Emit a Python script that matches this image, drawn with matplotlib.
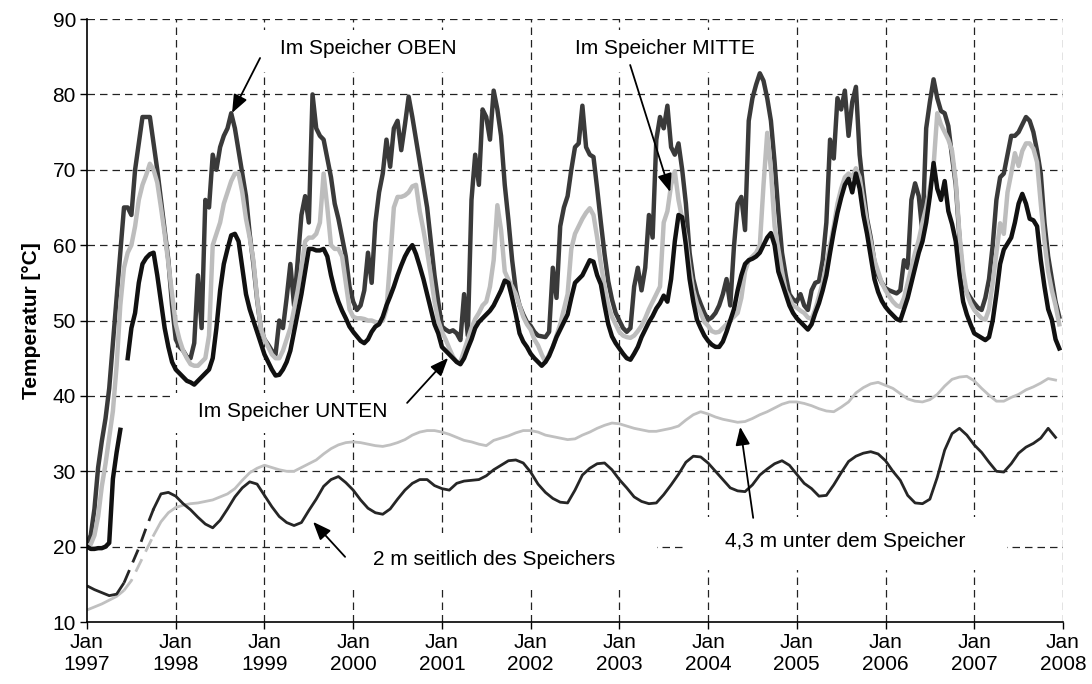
import numpy as np
import matplotlib
matplotlib.use('Agg')
import matplotlib.pyplot as plt
from matplotlib.patches import Rectangle

plt.rcParams['font.family'] = ['Liberation Sans', 'DejaVu Sans']

nan = np.nan

# ---- tank temperatures, half-monthly values (24 per year), 1997..2007 ----
oben_1997 = [20.5, 21.5, 25, 30.5, 34, 37, 41, 47, 53, 59, 65, 65, 64, 70, 73.5, 77, 77, 77, 73.5, 70, 66, 62, 58, 52]
oben_1998 = [47.5, 46.5, 46, 45.2, 45, 47, 56, 49, 66, 65, 72, 70, 73, 74.5, 75.5, 77.5, 75.5, 72.5, 69.5, 66.5, 61.5, 57.5, 52.8, 49]
oben_1999 = [47.5, 46.8, 46, 45.5, 50, 49, 53, 57.5, 52, 58, 64, 66.5, 63, 80, 75.5, 74.5, 74, 71.5, 69, 65.5, 63.5, 61, 58.5, 54.5]
oben_2000 = [52.5, 51.4, 52, 54, 59, 55, 63, 67, 69.5, 74, 70.4, 75.5, 76.5, 72.6, 76, 79.7, 77, 74, 71, 68, 65, 60.5, 56, 52.5]
oben_2001 = [49.2, 48.8, 48.5, 48.7, 48.3, 47.4, 53.5, 48, 66, 72, 68, 78, 77, 74, 80.5, 78, 74.5, 68, 63.3, 58, 54, 52, 50.8, 49.8]
oben_2002 = [49.3, 48.5, 48, 47.9, 47.8, 48.5, 57, 53, 62.5, 65, 66.5, 70, 73, 73.5, 78.5, 73, 72, 71.7, 67.5, 63, 58.8, 55.2, 52.8, 51]
oben_2003 = [50, 49, 48.5, 49, 54.5, 57, 54, 57, 64, 61, 74, 77, 75.5, 78.5, 73, 72, 73.5, 70, 65.5, 59, 55.5, 53.5, 52.2, 51]
oben_2004 = [50.1, 50.4, 51, 52, 53.5, 55.5, 52, 59.8, 65.5, 66.4, 62, 76.5, 79.5, 81.3, 82.8, 81.8, 79.5, 76.5, 71, 64.5, 59, 56, 53.5, 52.8]
oben_2005 = [52.5, 53.5, 52, 51.4, 54, 55, 55.2, 58, 63, 74, 71.5, 79.5, 78, 80.5, 74.5, 79, 81, 72, 67.5, 63.5, 61, 57.8, 56, 55]
oben_2006 = [54.3, 54, 53.8, 53.6, 54, 58, 57, 66, 68.2, 66.5, 61.6, 75.5, 79, 82, 79.5, 77.8, 77.5, 75.8, 71.7, 68, 61, 55, 53.8, 53]
oben_2007 = [52.3, 51.7, 51.4, 53, 55.5, 60, 66, 69, 69.5, 72, 74.5, 74.5, 75, 76, 77, 76.5, 75, 72.5, 69.5, 63, 58.5, 55.5, 52.5, 50.5]

mitte_1997 = [20, 20.3, 21.5, 24, 28, 31, 34.5, 38, 44, 52, 57, 59, 60, 62.5, 66, 68, 69.3, 70.8, 70, 68.3, 65, 61.5, 57.6, 53.5]
mitte_1998 = [49.5, 47.5, 46, 45, 44.2, 44, 44, 44.5, 45, 48, 60, 61.5, 63, 65.5, 67, 68.5, 69.5, 69.5, 67, 63.5, 61, 58, 53, 49]
mitte_1999 = [47.5, 46.5, 45.5, 45, 45, 46, 47.5, 49, 51.5, 54, 57, 60.5, 61, 61, 61.5, 63, 69.5, 65, 60, 59.5, 59.5, 58.5, 55, 51.5]
mitte_2000 = [50.5, 50.3, 50.3, 50.2, 50, 50, 49.8, 49.7, 50, 51.5, 58, 65, 66.4, 66.4, 66.6, 67, 67.8, 68, 64.5, 62, 59.2, 56, 52.5, 50]
mitte_2001 = [48.5, 47.5, 46.3, 45.2, 44.5, 44.5, 46, 47.5, 49, 50.2, 51, 52, 52.5, 54.5, 58, 65.3, 62, 56.5, 55.4, 54.5, 53.5, 52, 50.5, 49.5]
mitte_2002 = [48.8, 47.5, 46.7, 45.5, 44.5, 45.5, 46.5, 48, 49.5, 51.5, 53.5, 59.5, 61.5, 62.5, 63.5, 64.3, 64.9, 64, 61, 57.5, 54.5, 52, 50.5, 49.5]
mitte_2003 = [48.5, 48, 47.8, 47.7, 48, 48.6, 49.3, 50.3, 51.5, 52.5, 53.5, 54.5, 63, 64.5, 68, 69.8, 66, 63.5, 61, 57, 54, 52.2, 51, 49.8]
mitte_2004 = [49.3, 48.6, 48.4, 48.5, 49, 49.5, 50, 50.5, 51, 53, 56.5, 58, 58.5, 59, 60, 68, 74.9, 70, 62.5, 59.5, 56.5, 54, 53, 52]
mitte_2005 = [51.7, 51.3, 51, 50.4, 50.2, 51.5, 53.2, 55, 57.5, 60, 62.5, 65.5, 67.5, 69, 69.5, 69, 70.2, 69, 66, 63, 60.5, 58, 56.5, 55]
mitte_2006 = [54, 53.2, 52.5, 52, 51.8, 53, 55, 57, 59, 60.7, 63, 65, 67.5, 70.5, 77.5, 76, 75, 74, 72.5, 68.5, 61.5, 56.5, 53.6, 52.3]
mitte_2007 = [51.4, 50.8, 50.3, 50.1, 51.5, 55, 59, 62.9, 61.5, 67, 69.5, 72.2, 70.5, 72.5, 73.5, 73.5, 72.8, 71, 65.5, 60.5, 56.5, 54, 52, 49.5]

unten_1997 = [20, 19.7, 19.7, 19.8, 19.8, 20, 20.5, 29, 32.5, 35.5, nan, 45, 49, 51, 55, 57.5, 58.3, 58.8, 59, 56, 52.5, 49, 46.5, 44.5]
unten_1998 = [43.5, 43, 42.5, 42, 41.8, 41.5, 42, 42.5, 43, 43.5, 45, 49, 54, 57.5, 59.5, 61.3, 61.5, 60.5, 57, 53.5, 51.5, 50, 48.5, 47]
unten_1999 = [45.5, 44.5, 43.5, 42.7, 42.8, 43.5, 44.5, 46, 48.5, 51, 53.5, 56.5, 59.5, 59.5, 59.3, 59.3, 59.5, 58.5, 56, 54, 52.5, 51.3, 50.3, 49.2]
unten_2000 = [48.5, 47.9, 47.3, 47, 47.5, 48.5, 49.2, 49.5, 50.5, 52, 53.2, 54.5, 56, 57.3, 58.5, 59.4, 60, 58.8, 57.2, 55.5, 53.5, 51.5, 49.5, 48.3]
unten_2001 = [46.5, 46, 45.5, 45, 44.5, 44.2, 45, 46.3, 47.5, 49, 49.8, 50.3, 50.8, 51.3, 52, 53, 54, 55.3, 55, 53, 50.8, 48.3, 47.2, 46.5]
unten_2002 = [45.6, 45, 44.5, 44, 44.5, 45.3, 46.5, 47.8, 48.8, 49.8, 50.8, 53, 55, 55.5, 56, 57, 58, 57.8, 56, 54.8, 52, 49.5, 47.9, 47]
unten_2003 = [46.3, 45.6, 45, 44.8, 45.6, 46.5, 47.8, 48.8, 49.8, 50.6, 51.6, 52.3, 53.3, 52.5, 55.5, 60.5, 64, 63.7, 60, 55.5, 52.5, 50.1, 49, 48]
unten_2004 = [47.3, 46.8, 46.5, 46.5, 47.2, 48.5, 50, 51.5, 54, 56, 57.5, 58, 58.2, 58.5, 59, 60, 61, 61.6, 60, 56.5, 55, 53.5, 52, 51]
unten_2005 = [50.3, 49.8, 49.3, 48.8, 49.5, 51, 52.3, 54, 56, 59, 61.8, 64.3, 66.3, 68, 68.8, 67, 69.5, 67.5, 64, 61.5, 58.5, 55.5, 53.8, 52.6]
unten_2006 = [51.8, 51.2, 50.7, 50.2, 50, 51.5, 53, 55, 57, 59, 60.5, 63, 66.5, 70.9, 67.5, 66, 68.5, 64.5, 62.8, 60.5, 56, 52.5, 50.8, 49.5]
unten_2007 = [48.3, 48, 47.7, 47.4, 47.8, 50, 53.5, 57.5, 59.4, 60.2, 61, 63, 65.5, 66.8, 65.5, 63.5, 63.3, 62.5, 58, 54.5, 51.5, 50.1, 47.5, 46.3]

# ---- ground temperatures, monthly values (12 per year), 1997..2007 ----
unter_1997 = [11.6, 12, 12.4, 12.9, 13.4, 14.2, 15.5, 17.5, 19.5, 21.5, 23.3, 24.5]
unter_1998 = [25.2, 25.5, 25.7, 25.8, 26, 26.2, 26.6, 27, 27.7, 28.8, 29.8, 30.4]
unter_1999 = [30.8, 30.5, 30.2, 30, 30, 30.5, 31, 31.5, 32.3, 33, 33.5, 33.8]
unter_2000 = [33.9, 33.8, 33.6, 33.4, 33.3, 33.5, 33.8, 34.2, 34.8, 35.2, 35.4, 35.4]
unter_2001 = [35.2, 34.9, 34.5, 34.1, 33.9, 33.6, 33.4, 34.1, 34.4, 34.7, 35.1, 35.4]
unter_2002 = [35.4, 35.2, 34.8, 34.6, 34.4, 34.2, 34.3, 34.8, 35.2, 35.7, 36.1, 36.4]
unter_2003 = [36.3, 36, 35.7, 35.5, 35.3, 35.3, 35.5, 35.7, 36, 36.8, 37.5, 37.9]
unter_2004 = [37.6, 37.2, 36.9, 36.7, 36.5, 36.6, 37, 37.5, 37.9, 38.4, 38.9, 39.2]
unter_2005 = [39.2, 39, 38.7, 38.3, 38, 37.9, 38.5, 39.2, 40.4, 41.1, 41.6, 41.8]
unter_2006 = [41.4, 41, 40.3, 39.6, 39.3, 39.2, 39.5, 40.2, 41.3, 42.2, 42.5, 42.6]
unter_2007 = [42, 41, 40.1, 39.3, 39.3, 39.8, 40.2, 40.8, 41.2, 41.7, 42.3, 42.1]

seit_1997 = [14.8, 14.3, 13.9, 13.5, 13.7, 15.2, 17.5, 19.8, 22.5, 25, 27, 27.2]
seit_1998 = [26.7, 25.7, 24.9, 23.9, 23, 22.5, 23.5, 25, 26.6, 27.8, 28.6, 28.3]
seit_1999 = [26.8, 25.3, 24, 23.2, 22.8, 23.2, 24.8, 26.3, 28, 28.9, 29.3, 28.5]
seit_2000 = [27.5, 26.2, 25.1, 24.5, 24.3, 25, 26.3, 27.5, 28.4, 28.9, 28.9, 28.1]
seit_2001 = [27.7, 27.5, 28.4, 28.7, 28.8, 28.9, 29.4, 30.2, 30.8, 31.4, 31.5, 31.1]
seit_2002 = [29.9, 28.3, 27.2, 26.4, 25.9, 25.8, 27.5, 29.5, 30.4, 31, 31.1, 30.2]
seit_2003 = [28.9, 27.8, 26.6, 26, 25.7, 25.8, 26.9, 28.2, 29.6, 31.2, 32, 31.9]
seit_2004 = [31.1, 30, 28.9, 27.8, 27.4, 27.3, 28.2, 29.5, 30.3, 31, 31.4, 30.8]
seit_2005 = [29.6, 28.4, 27.7, 26.7, 26.8, 28.2, 29.8, 31.3, 32, 32.4, 32.6, 32.3]
seit_2006 = [31.4, 30, 28.8, 26.8, 25.8, 25.7, 26.3, 29.2, 32.8, 35, 35.7, 34.8]
seit_2007 = [33.5, 32.5, 31.2, 30, 29.9, 31, 32.4, 33.2, 33.7, 34.4, 35.7, 34.5]

year_ticks = list(range(1997, 2009))
tick_labels = ['Jan\n%d' % y for y in year_ticks]

labels = {
    'oben': 'Im Speicher OBEN',
    'mitte': 'Im Speicher MITTE',
    'unten': 'Im Speicher UNTEN',
    'seit': '2 m seitlich des Speichers',
    'unter': '4,3 m unter dem Speicher',
}

# ---- assemble ----
oben = np.array(oben_1997 + oben_1998 + oben_1999 + oben_2000 + oben_2001 + oben_2002 +
                oben_2003 + oben_2004 + oben_2005 + oben_2006 + oben_2007)
mitte = np.array(mitte_1997 + mitte_1998 + mitte_1999 + mitte_2000 + mitte_2001 + mitte_2002 +
                 mitte_2003 + mitte_2004 + mitte_2005 + mitte_2006 + mitte_2007)
unten = np.array(unten_1997 + unten_1998 + unten_1999 + unten_2000 + unten_2001 + unten_2002 +
                 unten_2003 + unten_2004 + unten_2005 + unten_2006 + unten_2007)
unter = np.array(unter_1997 + unter_1998 + unter_1999 + unter_2000 + unter_2001 + unter_2002 +
                 unter_2003 + unter_2004 + unter_2005 + unter_2006 + unter_2007)
seit = np.array(seit_1997 + seit_1998 + seit_1999 + seit_2000 + seit_2001 + seit_2002 +
                seit_2003 + seit_2004 + seit_2005 + seit_2006 + seit_2007)

t_half = 1997 + np.arange(len(oben)) / 24.0
t_mon = 1997 + np.arange(len(unter)) / 12.0

fig = plt.figure(figsize=(10.92, 6.84), dpi=100)
ax = fig.add_axes([0.0797, 0.0906, 0.8937, 0.8816])

ax.set_xlim(1997, 2008)
ax.set_ylim(10, 90)

grid_kw = dict(color='#222222', linewidth=0.9, linestyle=(0, (6, 4)), zorder=0.5)
for yv in range(20, 91, 10):
    ax.axhline(yv, **grid_kw)
for xv in year_ticks[1:]:
    ax.axvline(xv, **grid_kw)

# white text boxes (hide grid behind labels)
def px2data(px, py):
    return 1997 + (px - 87) / 88.7, 90 - (py - 19) / 7.54

for (x0, y0, x1, y1) in [(255, 30, 482, 72), (555, 30, 782, 72), (172, 393, 423, 433),
                         (330, 533, 657, 588), (687, 517, 1007, 570)]:
    dx0, dy0 = px2data(x0, y1)
    dx1, dy1 = px2data(x1, y0)
    ax.add_patch(Rectangle((dx0, dy0), dx1 - dx0, dy1 - dy0, facecolor='white',
                           edgecolor='none', zorder=1))

# ground lines: solid / dashed (data gap) / solid
thin = 2.0
for series, col in [(unter, '#c0c0c0'), (seit, '#262626')]:
    ax.plot(t_mon[:6], series[:6], color=col, lw=thin, zorder=2, solid_capstyle='butt')
    ax.plot(t_mon[5:10], series[5:10], color=col, lw=thin, zorder=2, linestyle=(0, (5, 3)))
    ax.plot(t_mon[9:], series[9:], color=col, lw=thin, zorder=2)

thick = 3.2
ax.plot(t_half, oben, color='#3a3a3a', lw=thick, zorder=3, solid_joinstyle='round')
ax.plot(t_half, mitte, color='#bdbdbd', lw=thick, zorder=4, solid_joinstyle='round')
ax.plot(t_half, unten, color='#111111', lw=thick, zorder=5, solid_joinstyle='round')

# annotations
fs = 15
tx = [('oben', 280, 48), ('mitte', 575, 48), ('unten', 198, 412), ('seit', 373, 560), ('unter', 725, 542)]
for key, px, py in tx:
    x, y = px2data(px, py)
    ax.text(x, y, labels[key], fontsize=fs, ha='left', va='center', zorder=6, color='black')

arrows = [((260, 58), (232, 113)), ((630, 65), (670, 192)), ((407, 403), (448, 358)),
          ((345, 557), (313, 522)), ((753, 518), (740, 427))]
for (sx, sy), (ex, ey) in arrows:
    s = px2data(sx, sy)
    e = px2data(ex, ey)
    ax.annotate('', xy=e, xytext=s, zorder=7,
                arrowprops=dict(arrowstyle='-|>,head_length=0.55,head_width=0.22',
                                color='black', lw=1.3, mutation_scale=20,
                                shrinkA=0, shrinkB=0))

ax.set_xticks(year_ticks)
ax.set_xticklabels(tick_labels)
ax.set_yticks(range(10, 91, 10))
ax.tick_params(axis='both', direction='out', length=5, width=1, labelsize=fs, pad=3)
for s in ['top', 'right']:
    ax.spines[s].set_visible(False)
for s in ['left', 'bottom']:
    ax.spines[s].set_linewidth(1.2)
    ax.spines[s].set_zorder(8)

ax.set_ylabel('Temperatur [°C]', fontsize=fs, fontweight='bold', labelpad=8)

fig.savefig('out.png', dpi=100)
